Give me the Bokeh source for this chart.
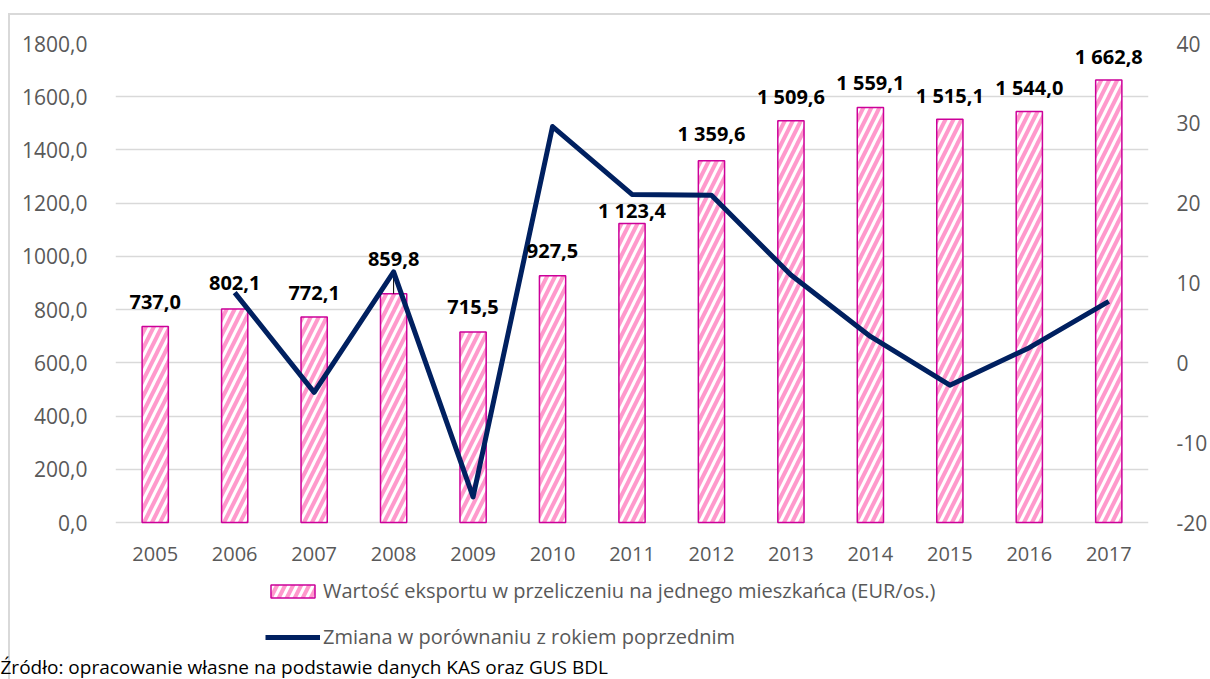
from bokeh.plotting import figure
from bokeh.models import (FactorRange, Range1d, LinearAxis, FixedTicker, ColumnDataSource,
                          LabelSet, Legend, LegendItem, Title)
from bokeh.embed import file_html
from bokeh.resources import INLINE
from bokeh.core.properties import value

# ---------------- data ----------------
years = ["2005", "2006", "2007", "2008", "2009", "2010", "2011",
         "2012", "2013", "2014", "2015", "2016", "2017"]
export_per_capita = [737.0, 802.1, 772.1, 859.8, 715.5, 927.5, 1123.4,
                     1359.6, 1509.6, 1559.1, 1515.1, 1544.0, 1662.8]
bar_labels = ["737,0", "802,1", "772,1", "859,8", "715,5", "927,5", "1 123,4",
              "1 359,6", "1 509,6", "1 559,1", "1 515,1", "1 544,0", "1 662,8"]
change_years = ["2006", "2007", "2008", "2009", "2010", "2011",
                "2012", "2013", "2014", "2015", "2016", "2017"]
change_pct = [8.8, -3.7, 11.4, -16.8, 29.6, 21.1, 21.0, 11.0, 3.3, -2.8, 1.9, 7.7]

left_ticks = [0, 200, 400, 600, 800, 1000, 1200, 1400, 1600, 1800]
left_tick_labels = ["0,0", "200,0", "400,0", "600,0", "800,0", "1000,0",
                    "1200,0", "1400,0", "1600,0", "1800,0"]
right_ticks = [-20, -10, 0, 10, 20, 30, 40]
right_tick_labels = ["-20", "-10", "0", "10", "20", "30", "40"]

bar_name = "Wartość eksportu w przeliczeniu na jednego mieszkańca (EUR/os.)"
line_name = "Zmiana w porównaniu z rokiem poprzednim"
source_text = "Źródło: opracowanie własne na podstawie danych KAS oraz GUS BDL"

# ---------------- styling / layout ----------------
label_dy = [24, 26, 24, 35, 25, 25, 13, 27, 24, 25, 24, 24, 24]   # px above bar top
FONT = "Open Sans"
GREY = "#595959"

W, H = 1210, 679
FRAME_TOP, ZERO_Y, BOTTOM_PANEL = 43, 522, 28
FRAME_BOTTOM = H - BOTTOM_PANEL
L_MIN, L_MAX = left_ticks[0], left_ticks[-1]
R_MIN, R_MAX = right_ticks[0], right_ticks[-1]
# extend ranges below the baseline so the legend fits inside the plot frame
l_start = L_MIN - (FRAME_BOTTOM - ZERO_Y) * (L_MAX - L_MIN) / (ZERO_Y - FRAME_TOP)
r_start = R_MIN - (FRAME_BOTTOM - ZERO_Y) * (R_MAX - R_MIN) / (ZERO_Y - FRAME_TOP)

p = figure(width=W, height=H, x_range=FactorRange(*years), y_range=Range1d(l_start, L_MAX),
           output_backend="svg", toolbar_location=None, x_axis_location=None,
           min_border_left=115, min_border_right=61, min_border_top=FRAME_TOP,
           min_border_bottom=BOTTOM_PANEL)
p.border_fill_color = None
p.outline_line_color = None
p.styles = {"background": "linear-gradient(#D9D9D9,#D9D9D9) 8px 13px/100% 2px no-repeat, "
                          "linear-gradient(#D9D9D9,#D9D9D9) 8px 13px/2px 100% no-repeat, white"}

p.extra_y_ranges = {"chg": Range1d(r_start, R_MAX)}

src = ColumnDataSource(dict(year=years, val=export_per_capita, lab=bar_labels, dy=label_dy))

bars = p.vbar(x="year", top="val", width=0.33, source=src, fill_color="white",
              line_color="#CC0099", line_width=1.5, hatch_pattern="/",
              hatch_color="#FF99CC", hatch_weight=4, hatch_scale=16)

# leader line for 2008 label
i08 = years.index("2008")
p.segment(x0=[years[i08]], y0=[export_per_capita[i08]], x1=[years[i08]],
          y1=[export_per_capita[i08] + 75], line_color="black", line_width=1)

line = p.line(x=change_years, y=change_pct, y_range_name="chg", line_color="#002060",
              line_width=5, line_join="round")

labels = LabelSet(x="year", y="val", text="lab", y_offset="dy", source=src,
                  text_align="center", text_baseline="middle", text_font=value(FONT),
                  text_font_style="bold", text_font_size="20px", text_color="black")
p.add_layout(labels)

# category labels under the baseline
year_labels = LabelSet(x="year", y=0, text="year", y_offset=-31, source=src,
                       text_align="center", text_baseline="middle", text_font=value(FONT),
                       text_font_size="20px", text_color=GREY)
p.add_layout(year_labels)

# grid / left axis
p.xgrid.visible = False
p.ygrid.grid_line_color = "#D9D9D9"
p.ygrid.grid_line_width = 1.5
p.ygrid.ticker = FixedTicker(ticks=left_ticks)

lax = p.yaxis[0]
lax.ticker = FixedTicker(ticks=left_ticks)
lax.major_label_overrides = {t: l for t, l in zip(left_ticks, left_tick_labels)}
lax.axis_line_color = None
lax.major_tick_line_color = None
lax.minor_tick_line_color = None
lax.major_label_text_color = GREY
lax.major_label_text_font = FONT
lax.major_label_text_font_size = "21px"
lax.major_label_standoff = 22

raxis = LinearAxis(y_range_name="chg", ticker=FixedTicker(ticks=right_ticks),
                   major_label_overrides={t: l for t, l in zip(right_ticks, right_tick_labels)})
raxis.axis_line_color = None
raxis.major_tick_line_color = None
raxis.minor_tick_line_color = None
raxis.major_label_text_color = GREY
raxis.major_label_text_font = FONT
raxis.major_label_text_font_size = "21px"
raxis.major_label_standoff = 22
p.add_layout(raxis, "right")

legend = Legend(items=[LegendItem(label=bar_name, renderers=[bars]),
                       LegendItem(label=line_name, renderers=[line])],
                location=(150, 1), orientation="vertical",
                glyph_width=55, glyph_height=16, label_standoff=3, spacing=19,
                padding=0, margin=0, border_line_color=None, background_fill_alpha=0,
                label_text_font=FONT, label_text_font_size="20px", label_text_color=GREY)
p.add_layout(legend, "center")

p.add_layout(Title(text=source_text, align="left", offset=-115, standoff=0,
                   text_font=FONT, text_font_size="19px", text_font_style="normal",
                   text_color="black"), "below")

open("out.html", "w").write(file_html(p, INLINE))
